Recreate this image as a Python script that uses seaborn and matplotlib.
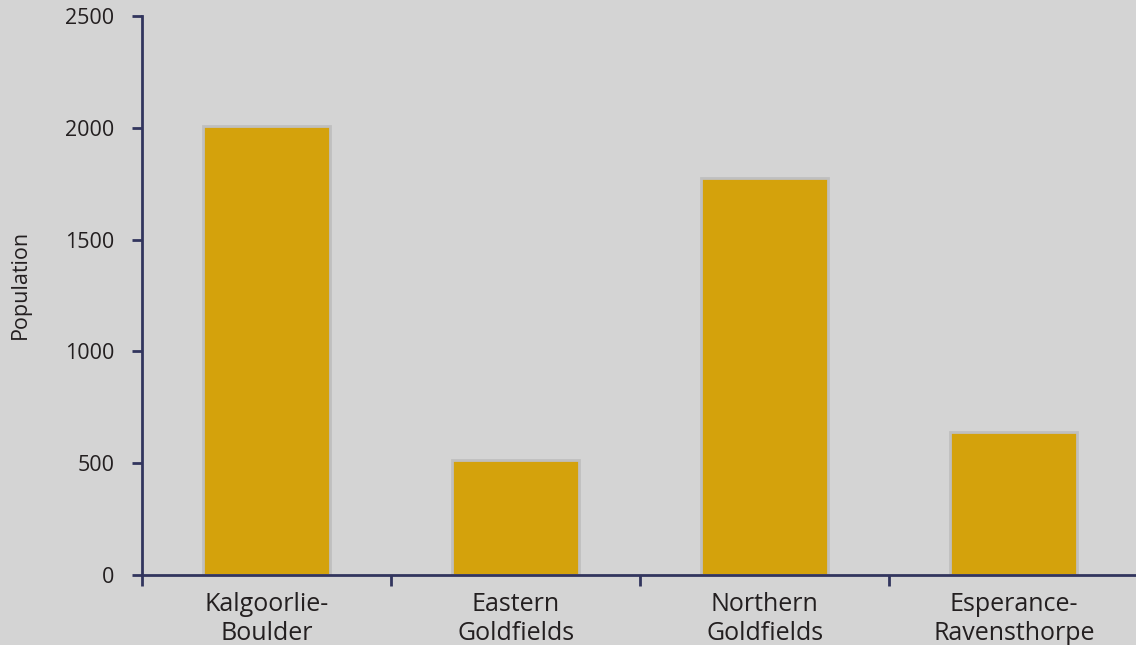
import numpy as np
import pandas as pd
import matplotlib
matplotlib.use("Agg")
import matplotlib.pyplot as plt
import seaborn as sns

regions = ["Kalgoorlie-\nBoulder", "Eastern\nGoldfields", "Northern\nGoldfields", "Esperance-\nRavensthorpe"]
population = [2008, 515, 1775, 640]
yticks = [0, 500, 1000, 1500, 2000, 2500]

df = pd.DataFrame({"region": regions, "population": population})

sns.set_theme(style="white")
plt.rcParams["font.family"] = ["Open Sans", "DejaVu Sans"]

bg = "#d4d4d4"
navy = "#32355e"
txt = "#231f20"

fig = plt.figure(figsize=(11.36, 6.45), dpi=100, facecolor=bg)
ax = fig.add_axes([142 / 1136, 1 - 575 / 645, 1 - 142 / 1136, (575 - 16) / 645])
ax.set_facecolor(bg)

sns.barplot(data=df, x="region", y="population", color="#d4a20c", width=0.51,
            edgecolor="#bfbfbf", linewidth=2, saturation=1, ax=ax)

ax.set_xlim(-0.5, 3.49)
ax.set_ylim(0, 2500)
ax.set_yticks(yticks)
ax.set_xlabel("")
ax.set_ylabel("Population", fontsize=15.5, color=txt)
ax.yaxis.set_label_coords(-0.112, 0.52)

for s in ["top", "right"]:
    ax.spines[s].set_visible(False)
for s in ["left", "bottom"]:
    ax.spines[s].set_color(navy)
    ax.spines[s].set_linewidth(2)

ax.tick_params(axis="y", which="major", direction="out", length=7, width=2,
               color=navy, labelcolor=txt, labelsize=15.5, pad=13, left=True)
ax.tick_params(axis="x", which="major", length=0, labelcolor=txt, labelsize=18, pad=12)
for lbl in ax.get_xticklabels():
    lbl.set_linespacing(1.22)
ax.set_xticks([-0.5, 0.5, 1.5, 2.5], minor=True)
ax.tick_params(axis="x", which="minor", direction="out", length=8, width=2,
               color=navy, bottom=True)

fig.savefig("out.png", dpi=100, facecolor=bg)
